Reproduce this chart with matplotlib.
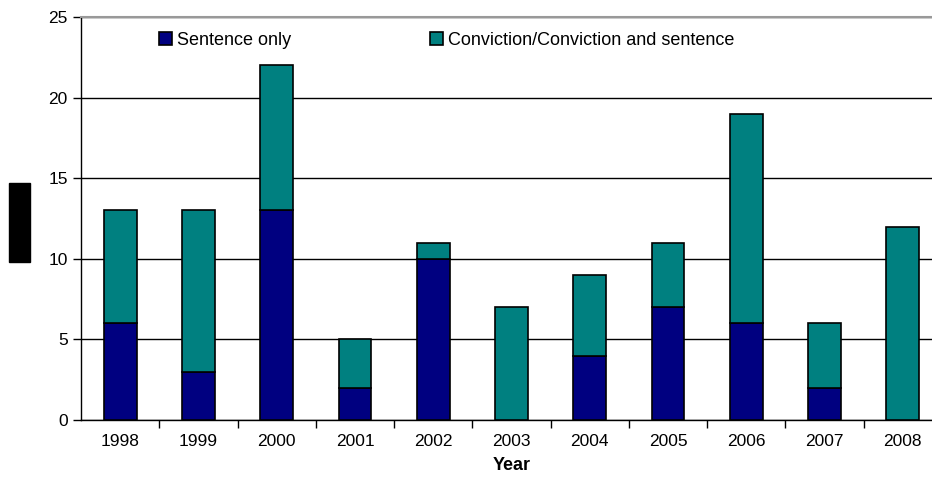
import numpy as np
import matplotlib.pyplot as plt
from matplotlib.patches import Rectangle

plt.rcParams['font.family'] = ['Liberation Sans', 'DejaVu Sans']

years = ['1998', '1999', '2000', '2001', '2002', '2003', '2004', '2005', '2006', '2007', '2008']
sentence_only = [6, 3, 13, 2, 10, 0, 4, 7, 6, 2, 0]
conviction = [7, 10, 9, 3, 1, 7, 5, 4, 13, 4, 12]

navy = '#000080'
teal = '#008080'

fig = plt.figure(figsize=(9.32, 4.8), dpi=100)
ax = fig.add_axes([81 / 932, 60 / 480, 861 / 932, 403 / 480])

x = np.arange(len(years))
ax.bar(x, sentence_only, width=0.42, color=navy, edgecolor='black', linewidth=1.2,
       label='Sentence only', zorder=3)
ax.bar(x, conviction, width=0.42, bottom=sentence_only, color=teal, edgecolor='black',
       linewidth=1.2, label='Conviction/Conviction and sentence', zorder=3)

ax.set_xlim(-0.5, len(years) - 0.5)
ax.set_ylim(0, 25)
ax.set_yticks([0, 5, 10, 15, 20, 25])
ax.yaxis.grid(True, color='black', linewidth=1)
ax.set_axisbelow(True)

# year labels centred under bars, ticks between categories
ax.set_xticks(x)
ax.set_xticklabels(years, fontsize=12.5)
ax.tick_params(axis='x', length=0, pad=10)
ax.set_xticks(np.arange(0.5, len(years) - 0.5, 1), minor=True)
ax.tick_params(axis='x', which='minor', length=6, width=1, direction='out')
ax.tick_params(axis='y', labelsize=12.5, length=6, width=1, direction='out')

ax.spines['right'].set_visible(False)
ax.spines['top'].set_color('#999999')
ax.spines['top'].set_linewidth(1.5)
ax.spines['left'].set_linewidth(1)
ax.spines['bottom'].set_linewidth(1)

ax.set_xlabel('Year', fontsize=13, fontweight='bold', labelpad=6)

leg = ax.legend(ncol=2, loc='upper left', bbox_to_anchor=(150 / 932, 1 - 23 / 480),
                bbox_transform=fig.transFigure, frameon=False, fontsize=13,
                handlelength=0.7, handleheight=0.7, handletextpad=0.3,
                columnspacing=7.7, borderpad=0)

# black box covering the y-axis title
fig.patches.append(Rectangle((9 / 932, 1 - 262 / 480), 21 / 932, 79 / 480,
                             transform=fig.transFigure, color='black'))

fig.savefig('out.png', dpi=100)
